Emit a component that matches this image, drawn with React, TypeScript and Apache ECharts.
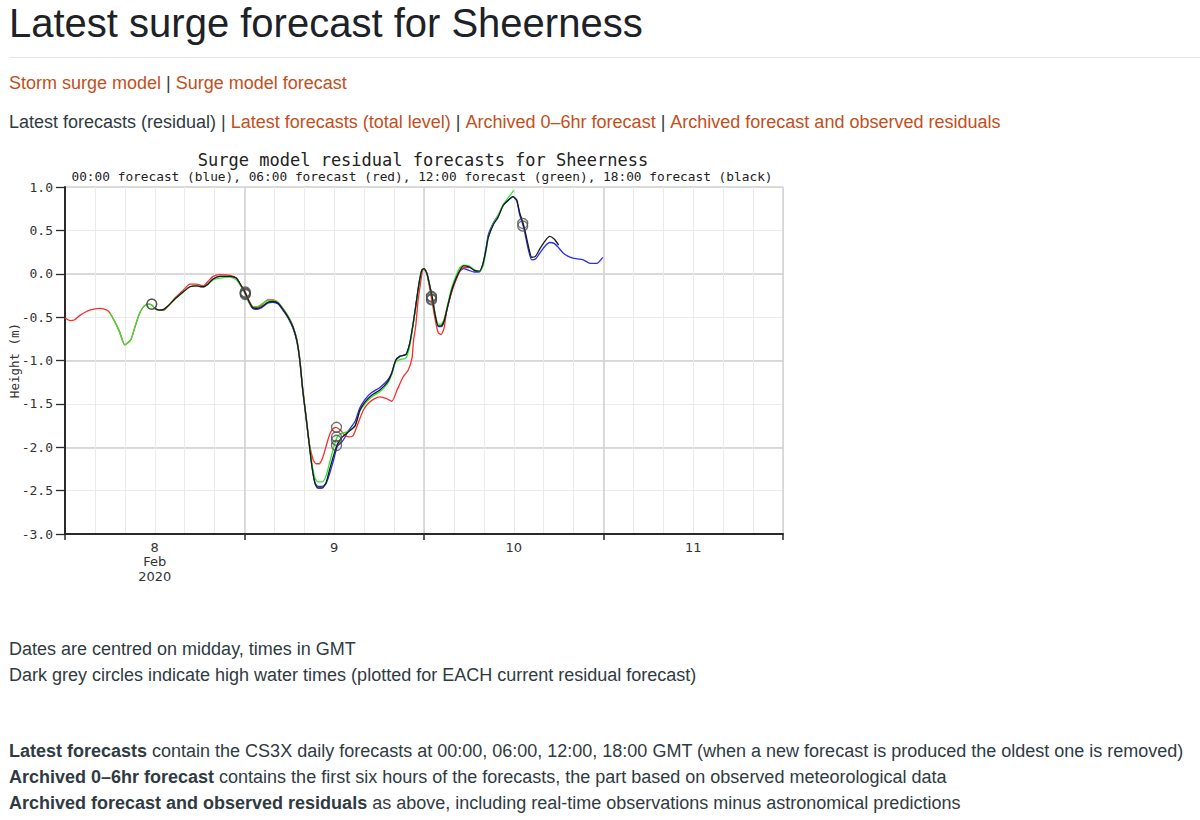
import React, { useEffect, useRef } from 'react';
import * as echarts from 'echarts';

// ---- Data (hours from 8 Feb 2020 00:00 GMT, residual in metres) ----
const redPoints = [
  [0, -0.51], [0.7, -0.54], [1.3, -0.53], [2.0, -0.48], [3.3, -0.42], [4.7, -0.40], [5.6, -0.42], [6.0, -0.45],
  [6.7, -0.56], [7.3, -0.67], [8.0, -0.82], [8.8, -0.76], [9.4, -0.60], [10.0, -0.45], [10.6, -0.37], [11.2, -0.35],
  [11.6, -0.36], [12.0, -0.40], [12.6, -0.42], [13.2, -0.42], [13.8, -0.37], [14.7, -0.28], [15.8, -0.19], [16.7, -0.12],
  [17.6, -0.12], [18.5, -0.14], [19.1, -0.09], [19.8, -0.03], [20.7, -0.01], [22.1, -0.02], [22.9, -0.05], [23.5, -0.13],
  [24.1, -0.21], [24.6, -0.31], [25.1, -0.38], [25.7, -0.39], [26.3, -0.36], [27.1, -0.30], [27.8, -0.30], [28.5, -0.33],
  [29.3, -0.42], [29.9, -0.50], [30.5, -0.61], [31.0, -0.76], [31.4, -0.99], [31.8, -1.34], [32.2, -1.62], [32.6, -1.92],
  [33.2, -2.15], [33.6, -2.19], [34.0, -2.19], [34.5, -2.11], [35.0, -1.96], [35.4, -1.85], [35.8, -1.79], [36.2, -1.77],
  [36.8, -1.80], [37.4, -1.86], [38.0, -1.88], [38.5, -1.87], [39.2, -1.72], [39.9, -1.57], [40.6, -1.49], [41.4, -1.44],
  [42.1, -1.42], [43.0, -1.44], [43.7, -1.47], [44.4, -1.34], [45.2, -1.19], [45.9, -1.11], [46.4, -0.97], [46.6, -0.77],
  [46.9, -0.60], [47.2, -0.31], [47.5, -0.13], [47.9, 0.05], [48.3, 0.03], [48.7, -0.14], [49.1, -0.33], [49.5, -0.53],
  [49.9, -0.68], [50.3, -0.70], [50.7, -0.62], [51.0, -0.44], [51.5, -0.27], [52.1, -0.11], [52.8, 0.03], [53.3, 0.07],
  [54.0, 0.07],
];

const greenPoints = [
  [6.0, -0.45], [6.7, -0.56], [7.3, -0.67], [8.0, -0.82], [8.8, -0.76], [9.4, -0.60], [10.0, -0.45], [10.6, -0.37],
  [11.2, -0.35], [11.6, -0.36], [12.0, -0.40], [12.6, -0.42], [13.2, -0.41], [13.8, -0.37], [14.7, -0.29], [15.8, -0.21],
  [16.7, -0.15], [17.6, -0.14], [18.5, -0.15], [19.1, -0.12], [19.8, -0.07], [20.7, -0.05], [22.1, -0.04], [22.9, -0.07],
  [23.5, -0.14], [24.1, -0.23], [24.6, -0.33], [25.1, -0.38], [25.7, -0.38], [26.3, -0.35], [27.1, -0.31], [27.8, -0.31],
  [28.5, -0.33], [29.3, -0.42], [29.9, -0.50], [30.5, -0.61], [31.0, -0.76], [31.4, -0.99], [31.8, -1.34], [32.2, -1.62],
  [32.6, -1.91], [33.0, -2.18], [33.4, -2.35], [33.8, -2.40], [34.4, -2.40], [34.9, -2.33], [35.4, -2.17], [36.0, -1.98],
  [36.4, -1.88], [37.0, -1.84], [37.8, -1.82], [38.8, -1.75], [39.4, -1.59], [40.1, -1.50], [41.0, -1.42], [42.1, -1.36],
  [43.1, -1.27], [43.7, -1.16], [44.2, -1.02], [44.8, -0.99], [45.6, -0.97], [46.1, -0.83], [46.5, -0.62], [46.9, -0.38],
  [47.3, -0.14], [47.7, 0.04], [48.0, 0.06], [48.4, 0.00], [48.7, -0.11], [49.1, -0.26], [49.5, -0.46], [49.9, -0.58],
  [50.3, -0.58], [50.7, -0.52], [51.2, -0.34], [51.7, -0.16], [52.3, -0.02], [52.8, 0.07], [53.3, 0.10], [54.0, 0.09],
  [54.7, 0.05], [55.4, 0.02], [55.9, 0.09], [56.3, 0.26], [56.6, 0.42], [57.3, 0.58], [57.9, 0.67], [58.6, 0.80],
  [59.3, 0.88], [60.0, 0.96],
];

const blackPoints = [
  [12.0, -0.40], [12.6, -0.42], [13.2, -0.41], [13.8, -0.37], [14.7, -0.29], [15.8, -0.21], [16.7, -0.15], [17.6, -0.14],
  [18.5, -0.15], [19.1, -0.12], [19.8, -0.06], [20.7, -0.03], [22.1, -0.03], [22.9, -0.05], [23.5, -0.13], [24.1, -0.22],
  [24.6, -0.32], [25.1, -0.39], [25.7, -0.40], [26.3, -0.38], [27.1, -0.33], [27.8, -0.32], [28.5, -0.34], [29.3, -0.43],
  [29.9, -0.51], [30.5, -0.62], [31.0, -0.77], [31.4, -1.00], [31.8, -1.35], [32.2, -1.63], [32.6, -1.92], [33.0, -2.21],
  [33.4, -2.41], [33.8, -2.47], [34.4, -2.47], [34.9, -2.41], [35.4, -2.25], [36.0, -2.07], [36.4, -1.97], [37.0, -1.89],
  [37.8, -1.83], [38.8, -1.75], [39.4, -1.58], [40.1, -1.48], [41.0, -1.40], [42.1, -1.34], [43.1, -1.25], [43.7, -1.14],
  [44.2, -1.00], [44.8, -0.95], [45.6, -0.93], [46.1, -0.80], [46.5, -0.60], [46.9, -0.37], [47.3, -0.13], [47.7, 0.04],
  [48.0, 0.06], [48.4, 0.00], [48.7, -0.11], [49.1, -0.27], [49.5, -0.48], [49.9, -0.60], [50.3, -0.60], [50.7, -0.54],
  [51.2, -0.36], [51.7, -0.19], [52.3, -0.05], [52.8, 0.04], [53.3, 0.09], [54.0, 0.08], [54.7, 0.04], [55.4, 0.03],
  [55.9, 0.12], [56.3, 0.28], [56.6, 0.42], [57.3, 0.57], [57.9, 0.65], [58.6, 0.79], [59.3, 0.85], [59.9, 0.89],
  [60.4, 0.85], [60.8, 0.70], [61.3, 0.57], [61.7, 0.42], [62.0, 0.30], [62.4, 0.19], [62.9, 0.20], [63.5, 0.29],
  [64.2, 0.38], [64.8, 0.43], [65.4, 0.40], [66.0, 0.33],
];

const bluePoints = [
  [18.0, -0.15], [18.5, -0.15], [19.1, -0.12], [19.8, -0.06], [20.7, -0.03], [22.1, -0.03], [22.9, -0.05], [23.5, -0.13],
  [24.1, -0.23], [24.6, -0.33], [25.1, -0.40], [25.7, -0.41], [26.3, -0.39], [27.1, -0.34], [27.8, -0.33], [28.5, -0.35],
  [29.3, -0.44], [29.9, -0.52], [30.5, -0.63], [31.0, -0.78], [31.4, -1.01], [31.8, -1.36], [32.2, -1.64], [32.6, -1.93],
  [33.0, -2.21], [33.4, -2.40], [33.8, -2.45], [34.4, -2.45], [34.9, -2.42], [35.4, -2.30], [36.0, -2.12], [36.4, -1.99],
  [37.0, -1.94], [37.4, -1.89], [37.8, -1.82], [38.8, -1.70], [39.4, -1.55], [40.1, -1.45], [41.0, -1.37], [42.1, -1.31],
  [43.1, -1.23], [43.7, -1.14], [44.2, -1.00], [44.8, -0.95], [45.6, -0.93], [46.1, -0.80], [46.5, -0.60], [46.9, -0.37],
  [47.3, -0.13], [47.7, 0.04], [48.0, 0.06], [48.4, 0.00], [48.7, -0.11], [49.1, -0.28], [49.5, -0.49], [49.9, -0.61],
  [50.3, -0.61], [50.7, -0.55], [51.2, -0.37], [51.7, -0.20], [52.3, -0.06], [52.8, 0.03], [53.3, 0.06], [54.0, 0.04],
  [54.7, 0.02], [55.4, 0.02], [55.9, 0.12], [56.3, 0.30], [56.6, 0.45], [57.3, 0.59], [57.9, 0.67], [58.6, 0.79],
  [59.3, 0.85], [59.9, 0.89], [60.4, 0.84], [60.8, 0.68], [61.3, 0.54], [61.7, 0.38], [62.0, 0.26], [62.4, 0.16],
  [62.9, 0.17], [63.5, 0.24], [64.2, 0.32], [64.8, 0.36], [65.4, 0.35], [66.0, 0.30], [66.6, 0.24], [67.3, 0.20],
  [67.9, 0.18], [69.3, 0.16], [70.2, 0.12], [71.1, 0.12], [71.9, 0.19],
];

// high water times per forecast (hours, residual)
const redHighWater = [[11.6, -0.35], [24.1, -0.21], [36.3, -1.77], [49.0, -0.30]];
const greenHighWater = [[11.6, -0.35], [24.1, -0.23], [36.3, -1.88], [49.0, -0.26]];
const blackHighWater = [[24.1, -0.22], [36.3, -1.92], [49.0, -0.27], [61.2, 0.58]];
const blueHighWater = [[24.1, -0.24], [36.3, -1.98], [49.0, -0.29], [61.2, 0.55]];

const dayLabelHours = [12, 36, 60, 84];
const dayLabels = ['8\nFeb\n2020', '9', '10', '11'];

const PAGE_FONT = 'Liberation Sans, Arial, sans-serif';
const LINK = '#c24f1c';
const TEXT = '#2f3b42';
const MONO = 'DejaVu Sans Mono, monospace';

function richStyles(size: number) {
  return {
    l: { fill: LINK, fontSize: size, fontFamily: PAGE_FONT, fontWeight: 'normal' },
    t: { fill: TEXT, fontSize: size, fontFamily: PAGE_FONT, fontWeight: 'normal' },
    b: { fill: TEXT, fontSize: size, fontFamily: PAGE_FONT, fontWeight: 'bold' },
  };
}

function pageText(x: number, y: number, text: string, size = 18) {
  return {
    type: 'text',
    x,
    y,
    silent: true,
    style: {
      text,
      fontSize: size,
      fontFamily: PAGE_FONT,
      fill: TEXT,
      align: 'left',
      verticalAlign: 'middle',
      rich: richStyles(size),
    },
  };
}

function lineSeries(name: string, data: number[][], color: string, z: number) {
  return {
    name,
    type: 'line',
    data,
    xAxisIndex: 0,
    yAxisIndex: 0,
    showSymbol: false,
    symbol: 'none',
    smooth: 0.2,
    silent: true,
    z,
    lineStyle: { color, width: 1.3 },
  };
}

function hwSeries(data: number[][]) {
  return {
    type: 'scatter',
    data,
    xAxisIndex: 0,
    yAxisIndex: 0,
    symbol: 'circle',
    symbolSize: 10,
    silent: true,
    z: 10,
    itemStyle: { color: 'rgba(0,0,0,0)', borderColor: '#4a4a4a', borderWidth: 1.3 },
  };
}

export default function App() {
  const ref = useRef<HTMLDivElement>(null);
  useEffect(() => {
    const chart = echarts.init(ref.current as HTMLDivElement, null, { renderer: 'svg' });
    const option: any = {
      animation: false,
      backgroundColor: '#ffffff',
      grid: { left: 65, top: 187, width: 718, height: 347, containLabel: false, outerBoundsMode: 'none' },
      xAxis: [
        {
          type: 'value', min: 0, max: 96, interval: 4,
          axisLine: { show: true, onZero: false, lineStyle: { color: '#2a2a2a', width: 2 } },
          axisTick: { show: false },
          splitLine: { show: true, showMinLine: false, lineStyle: { color: '#ebebeb', width: 1 } },
          axisLabel: {
            formatter: (v: number) => {
              const i = dayLabelHours.indexOf(v);
              return i >= 0 ? dayLabels[i] : '';
            },
            fontFamily: 'DejaVu Sans, sans-serif', fontSize: 13, color: '#333', lineHeight: 14.5, margin: 6,
          },
        },
        {
          type: 'value', min: 0, max: 96, interval: 24, position: 'bottom',
          axisLine: { show: false, onZero: false },
          axisTick: { show: true, length: 6, lineStyle: { color: '#2a2a2a', width: 1.5 } },
          axisLabel: { show: false },
          splitLine: { show: true, showMinLine: false, lineStyle: { color: '#d0d0d0', width: 1.5 } },
        },
      ],
      yAxis: [
        {
          type: 'value', min: -3, max: 1, interval: 0.5, position: 'left',
          axisLine: { show: true, onZero: false, lineStyle: { color: '#2a2a2a', width: 2 } },
          axisTick: { show: true, length: 9, lineStyle: { color: '#2a2a2a', width: 1.3 } },
          axisLabel: {
            formatter: (v: number) => v.toFixed(1),
            fontFamily: MONO, fontSize: 13, color: '#333', margin: 12,
          },
          splitLine: { show: true, showMinLine: false, lineStyle: { color: '#ebebeb', width: 1 } },
          name: 'Height (m)', nameLocation: 'middle', nameGap: 44, nameRotate: 90, nameMoveOverlap: false,
          nameTextStyle: { fontFamily: MONO, fontSize: 12.5, color: '#333' },
        },
        {
          type: 'value', min: -3, max: 1, interval: 1, position: 'left',
          axisLine: { show: false, onZero: false }, axisTick: { show: false }, axisLabel: { show: false },
          splitLine: { show: true, showMinLine: false, lineStyle: { color: '#d0d0d0', width: 1.5 } },
        },
      ],
      series: [
        lineSeries('00:00 forecast', bluePoints, '#2a2aff', 2),
        lineSeries('06:00 forecast', redPoints, '#ff2a2a', 3),
        lineSeries('12:00 forecast', greenPoints, '#2ee82e', 4),
        lineSeries('18:00 forecast', blackPoints, '#1a1a1a', 5),
        hwSeries(redHighWater),
        hwSeries(greenHighWater),
        hwSeries(blackHighWater),
        hwSeries(blueHighWater),
      ],
      graphic: [
        {
          type: 'text', x: 9, y: 23, silent: true,
          style: {
            text: 'Latest surge forecast for Sheerness',
            fontSize: 40, fontFamily: PAGE_FONT, fill: '#1c2227',
            align: 'left', verticalAlign: 'middle',
            shadowColor: 'rgba(0,0,0,0.25)', shadowBlur: 3, shadowOffsetX: 1, shadowOffsetY: 2,
          },
        },
        {
          type: 'line', silent: true,
          shape: { x1: 10, y1: 57.5, x2: 1200, y2: 57.5 },
          style: { stroke: '#e5e5e5', lineWidth: 1 },
        },
        pageText(9, 83, '{l|Storm surge model}{t| | }{l|Surge model forecast}'),
        pageText(9, 122, '{t|Latest forecasts (residual) | }{l|Latest forecasts (total level)}{t| | }{l|Archived 0\u20136hr forecast}{t| | }{l|Archived forecast and observed residuals}'),
        {
          type: 'text', x: 423, y: 160, silent: true,
          style: {
            text: 'Surge model residual forecasts for Sheerness',
            fontSize: 17, fontFamily: MONO, fill: '#222', align: 'center', verticalAlign: 'middle',
          },
        },
        {
          type: 'text', x: 422, y: 176, silent: true,
          style: {
            text: '00:00 forecast (blue), 06:00 forecast (red), 12:00 forecast (green), 18:00 forecast (black)',
            fontSize: 12.8, fontFamily: MONO, fill: '#222', align: 'center', verticalAlign: 'middle',
          },
        },
        pageText(9, 649, '{t|Dates are centred on midday, times in GMT}'),
        pageText(9, 675, '{t|Dark grey circles indicate high water times (plotted for EACH current residual forecast)}'),
        pageText(9, 751, '{b|Latest forecasts}{t| contain the CS3X daily forecasts at 00:00, 06:00, 12:00, 18:00 GMT (when a new forecast is produced the oldest one is removed)}'),
        pageText(9, 777, '{b|Archived 0\u20136hr forecast}{t| contains the first six hours of the forecasts, the part based on observed meteorological data}'),
        pageText(9, 803, '{b|Archived forecast and observed residuals}{t| as above, including real-time observations minus astronomical predictions}'),
      ],
    };
    chart.setOption(option);
    return () => chart.dispose();
  }, []);
  return (
    <div
      ref={ref}
      style={{ position: 'absolute', left: 0, top: 0, width: 1200, height: 820, background: '#fff' }}
    />
  );
}
